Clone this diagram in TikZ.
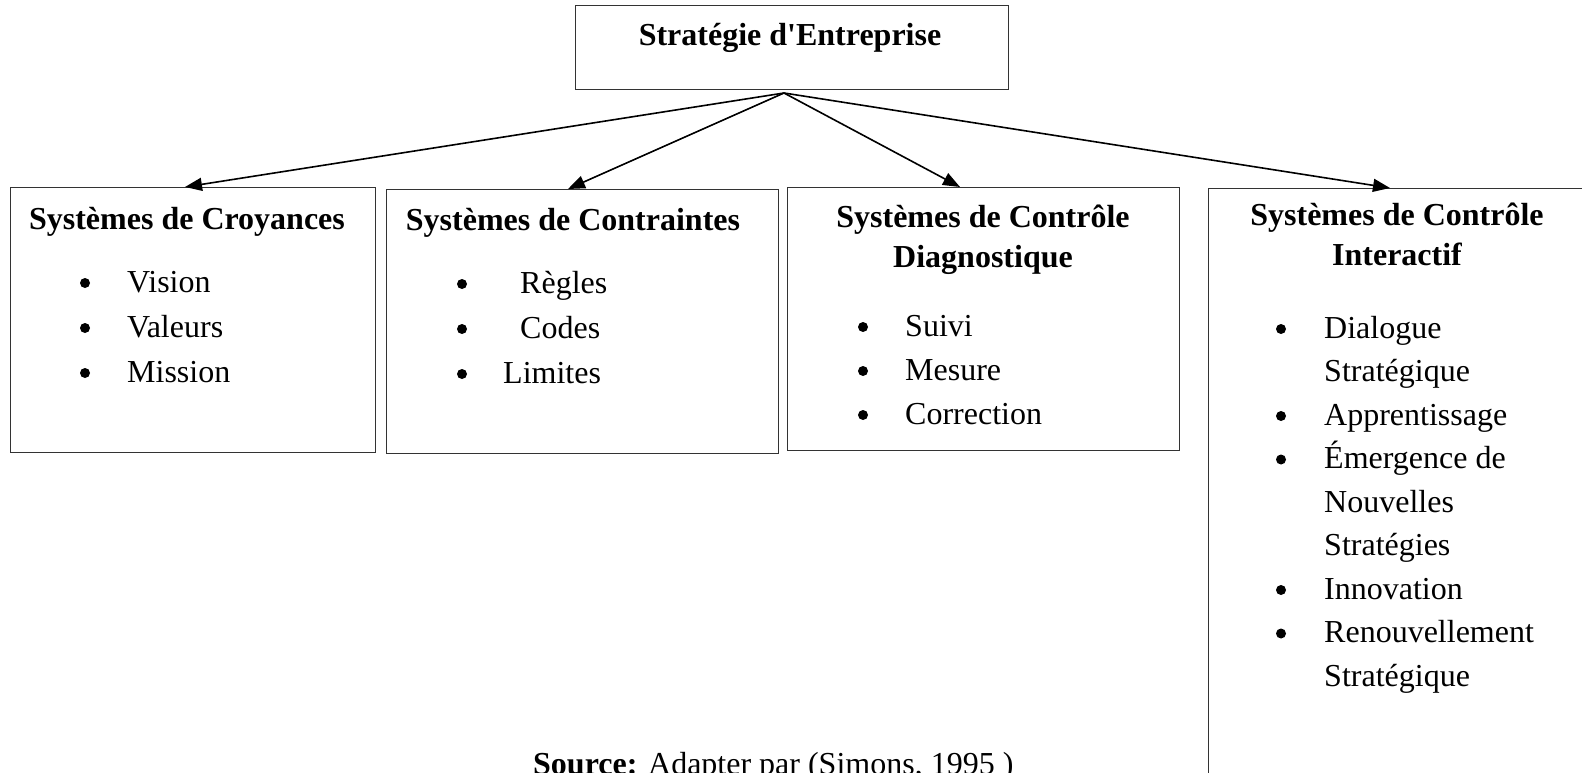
\documentclass[tikz,border=0pt]{standalone}
\usepackage{fontspec}
\setmainfont{Liberation Serif}[Ligatures=TeXOff]
\usetikzlibrary{arrows.meta}
\begin{document}
\begin{tikzpicture}[x=1pt,y=-1pt,
  box/.style={draw=black!80, line width=1.4pt, inner sep=0pt, anchor=north west},
  txt/.style={inner sep=0pt, anchor=base west, font=\fontsize{32}{38}\selectfont},
  head/.style={inner sep=0pt, anchor=base, font=\fontsize{32}{38}\selectfont\bfseries},
  dot/.style={circle, fill=black, inner sep=0pt, minimum size=10pt},
  link/.style={line width=1.6pt, -{Triangle[length=17pt,width=13pt]}}]
\useasboundingbox (0,0) rectangle (1582,773);
\clip (0,0) rectangle (1582,773);

% frames
\node[box, minimum width=433pt, minimum height=84pt] (top) at (575,5) {};
\node[box, minimum width=365pt, minimum height=265pt] (b1) at (10,187) {};
\node[box, minimum width=392pt, minimum height=264pt] (b2) at (386,189) {};
\node[box, minimum width=392pt, minimum height=263pt] (b3) at (787,187) {};
\node[box, minimum width=420pt, minimum height=650pt] (b4) at (1208,188) {};

% title
\node[head] (title) at (790,46) {Stratégie d'Entreprise};

% connectors
\coordinate (src) at (784,93);
\coordinate (t1) at (185,0 |- b1.north);
\coordinate (t2) at (568,0 |- b2.north);
\coordinate (t3) at (960,0 |- b3.north);
\coordinate (t4) at (1390,0 |- b4.north);
\draw[link] (src) -- (t1);
\draw[link] (src) -- (t2);
\draw[link] (src) -- (t3);
\draw[link] (src) -- (t4);

% beliefs
\node[head] (h1) at (187,229) {Systèmes de Croyances};
\node[dot] (d11) at (85,283) {}; \node[txt] (i11) at (127,292) {Vision};
\node[dot] (d12) at (85,328) {}; \node[txt] (i12) at (127,337) {Valeurs};
\node[dot] (d13) at (85,373) {}; \node[txt] (i13) at (127,382) {Mission};

% boundaries
\node[head] (h2) at (573,230) {Systèmes de Contraintes};
\node[dot] (d21) at (462,284) {}; \node[txt] (i21) at (520,293) {Règles};
\node[dot] (d22) at (462,329) {}; \node[txt] (i22) at (520,338) {Codes};
\node[dot] (d23) at (462,374) {}; \node[txt] (i23) at (503,383) {Limites};

% diagnostic control
\node[head] (h3a) at (983,227) {Systèmes de Contrôle};
\node[head] (h3b) at (983,267) {Diagnostique};
\node[dot] (d31) at (863,327) {}; \node[txt] (i31) at (905,336) {Suivi};
\node[dot] (d32) at (863,371) {}; \node[txt] (i32) at (905,380) {Mesure};
\node[dot] (d33) at (863,415) {}; \node[txt] (i33) at (905,424) {Correction};

% interactive control
\node[head] (h4a) at (1397,225) {Systèmes de Contrôle};
\node[head] (h4b) at (1397,265) {Interactif};
\node[dot] (d41) at (1281,329) {}; \node[txt] (i41) at (1324,338) {Dialogue};
\node[txt] (i42) at (1324,381.5) {Stratégique};
\node[dot] (d43) at (1281,416) {}; \node[txt] (i43) at (1324,425) {Apprentissage};
\node[dot] (d44) at (1281,459.5) {}; \node[txt] (i44) at (1324,468.5) {Émergence de};
\node[txt] (i45) at (1324,512) {Nouvelles};
\node[txt] (i46) at (1324,555.5) {Stratégies};
\node[dot] (d47) at (1281,590) {}; \node[txt] (i47) at (1324,599) {Innovation};
\node[dot] (d48) at (1281,633.5) {}; \node[txt] (i48) at (1324,642.5) {Renouvellement};
\node[txt] (i49) at (1324,686) {Stratégique};

% source line
\node[txt] (note) at (533,774) {\textbf{Source:} Adapter par (Simons, 1995 )};
\end{tikzpicture}
\end{document}
